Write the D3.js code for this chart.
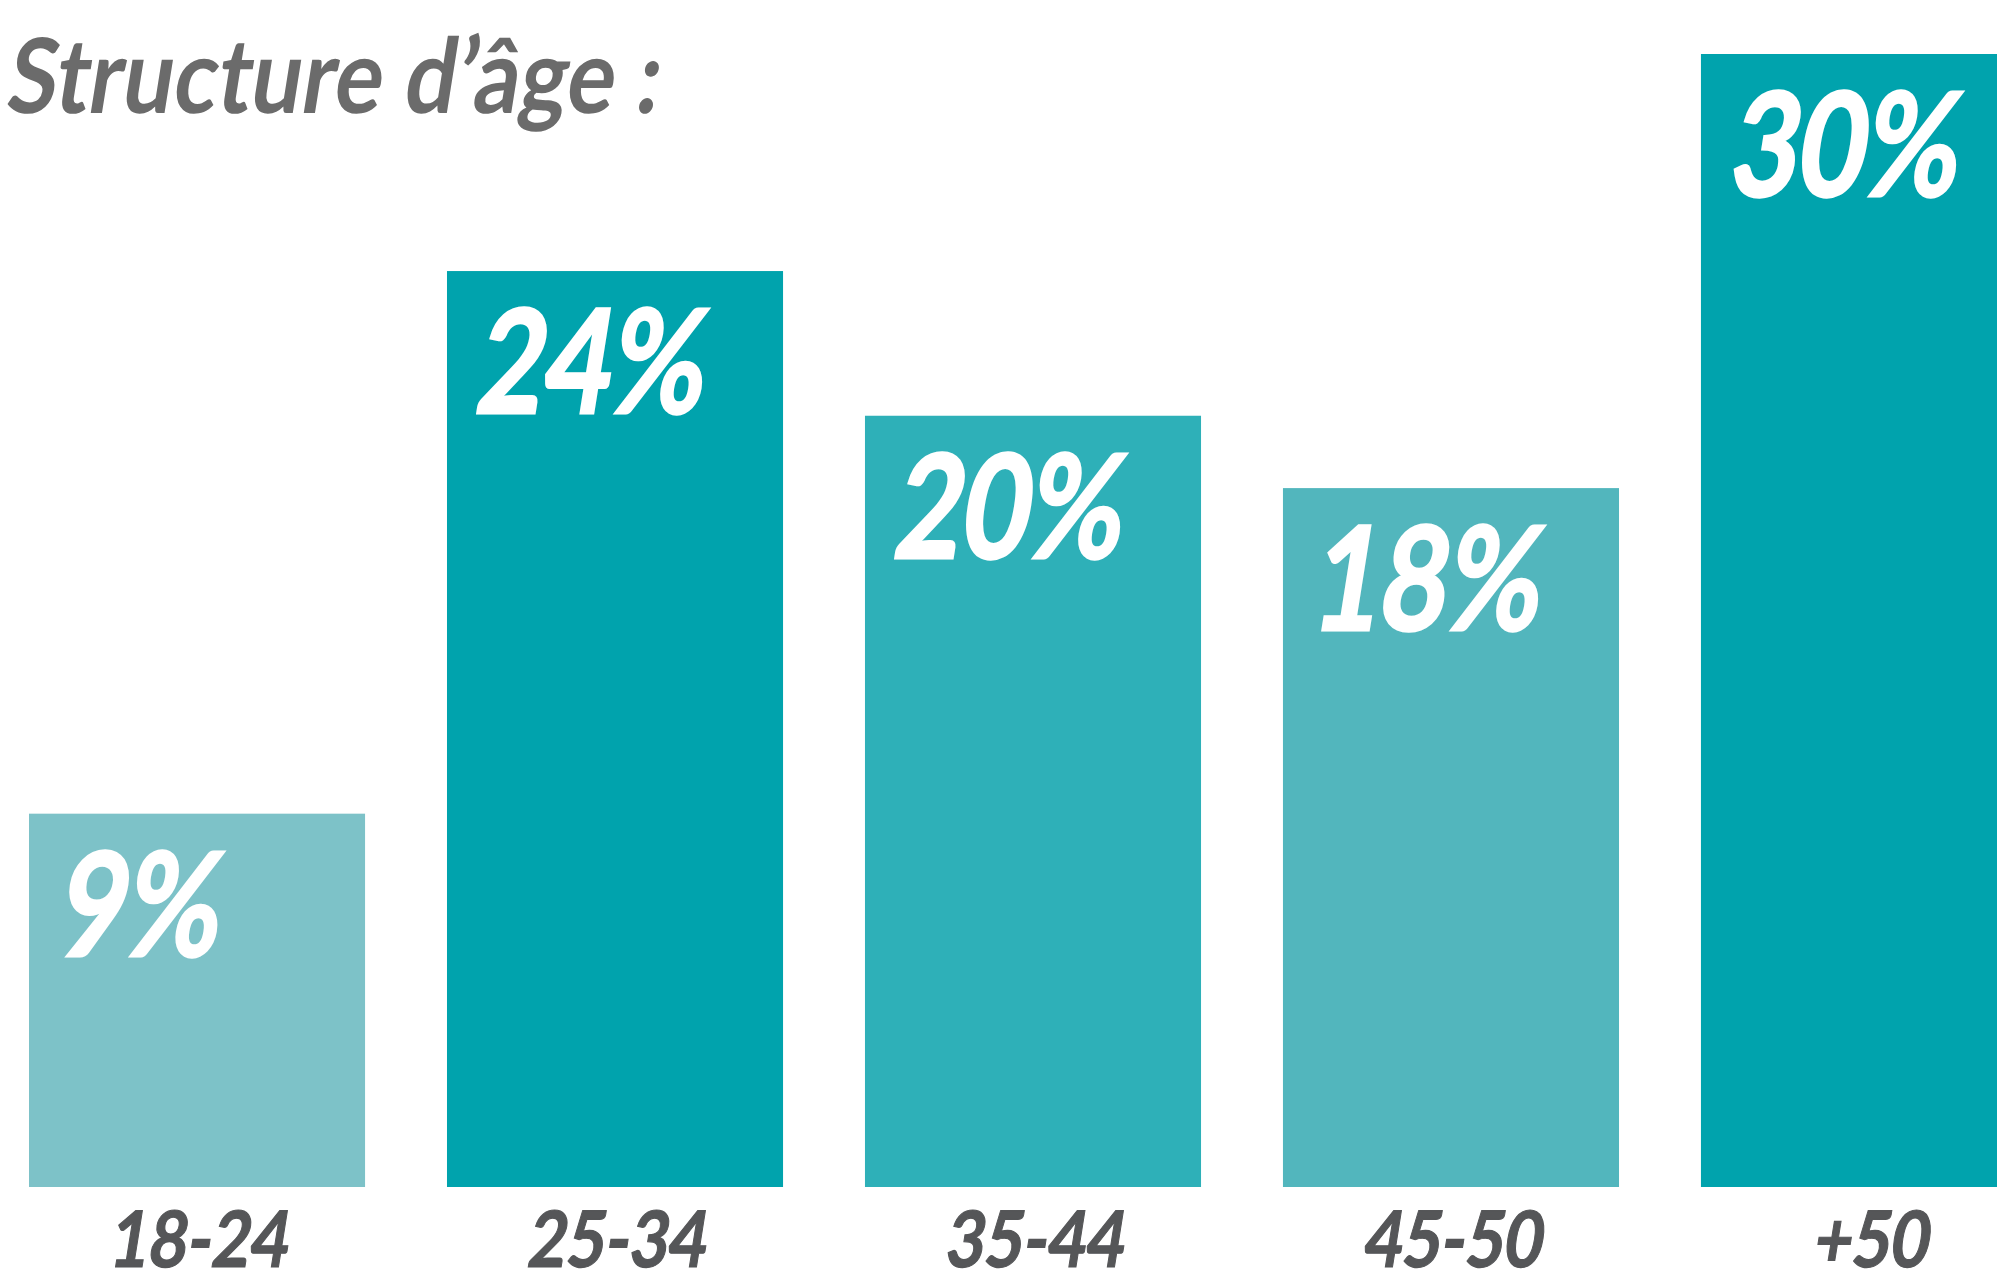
<!DOCTYPE html>
<html>
<head>
  <meta charset="utf-8">
  <style>
    body {
      margin: 0;
      background: #ffffff;
      overflow: hidden;
    }
    .title, .value-label, .cat-label {
      font-family: Lato, "Open Sans", sans-serif;
      font-style: normal;
      font-weight: 700;
    }
    .title { fill: #6b6b6b; }
    /* a thin outline thickens the strokes toward the heavier original */
    .value-label { fill: #ffffff; stroke: #ffffff; stroke-width: 3px; }
    .cat-label { fill: #555658; stroke: #555658; stroke-width: 1.2px; }
  </style>
</head>
<body>
  <script src="https://d3js.org/d3.v7.min.js"></script>
  <script>
    // data
    const categories = ['18-24', '25-34', '35-44', '45-50', '+50'];
    const shares = [9, 24, 20, 18, 30];
    const barColors = ['#7dc2c8', '#00a3ad', '#2eb0b8', '#52b6bd', '#00a3ad'];
    const titleText = 'Structure d\u2019\u00e2ge :';

    const width = 1997;
    const height = 1285;
    const baseline = 1187;
    // the original face is a narrow oblique geometric sans: fake it
    const squeeze = 0.8;
    const slant = -9;

    const svg = d3.select('body')
      .append('svg')
      .attr('width', width)
      .attr('height', height);

    svg.append('rect')
      .attr('width', width)
      .attr('height', height)
      .attr('fill', '#ffffff');

    const bars = categories.map((c, i) => ({ cat: c, value: shares[i], color: barColors[i] }));

    // the last bar runs off the right edge, as in the original
    const x = d3.scaleBand()
      .domain(categories)
      .range([29, 2037])
      .paddingInner(0.196)
      .paddingOuter(0);

    // the infographic is not drawn to strict zero-based scale
    const y = d3.scaleLinear()
      .domain([-1.32, 30])
      .range([baseline, 54]);

    // title
    svg.append('text')
      .attr('class', 'title')
      .attr('transform', `translate(4, 113) skewX(${slant}) scale(0.87, 1)`)
      .attr('font-size', 104)
      .text(titleText);

    // bars
    svg.append('g')
      .selectAll('rect')
      .data(bars)
      .enter()
      .append('rect')
      .attr('x', d => x(d.cat))
      .attr('y', d => y(d.value))
      .attr('width', x.bandwidth())
      .attr('height', d => baseline - y(d.value))
      .attr('fill', d => d.color);

    // values inside the bars
    svg.append('g')
      .selectAll('text')
      .data(bars)
      .enter()
      .append('text')
      .attr('class', 'value-label')
      .attr('transform', d => `translate(${x(d.cat) + 26}, ${y(d.value) + 142}) skewX(${slant}) scale(${squeeze}, 1)`)
      .attr('font-size', 144)
      .text(d => `${d.value}%`);

    // category axis (no line, no ticks)
    const xAxis = d3.axisBottom(x).tickSize(0).tickPadding(0);
    const axisG = svg.append('g')
      .attr('transform', `translate(0, ${baseline})`)
      .call(xAxis);
    axisG.select('.domain').remove();
    axisG.selectAll('.tick text')
      .attr('class', 'cat-label')
      .attr('font-size', 78)
      .attr('dy', null)
      .attr('y', null)
      .attr('transform', `translate(0, 80) skewX(${slant}) scale(0.85, 1)`);
  </script>
</body>
</html>
